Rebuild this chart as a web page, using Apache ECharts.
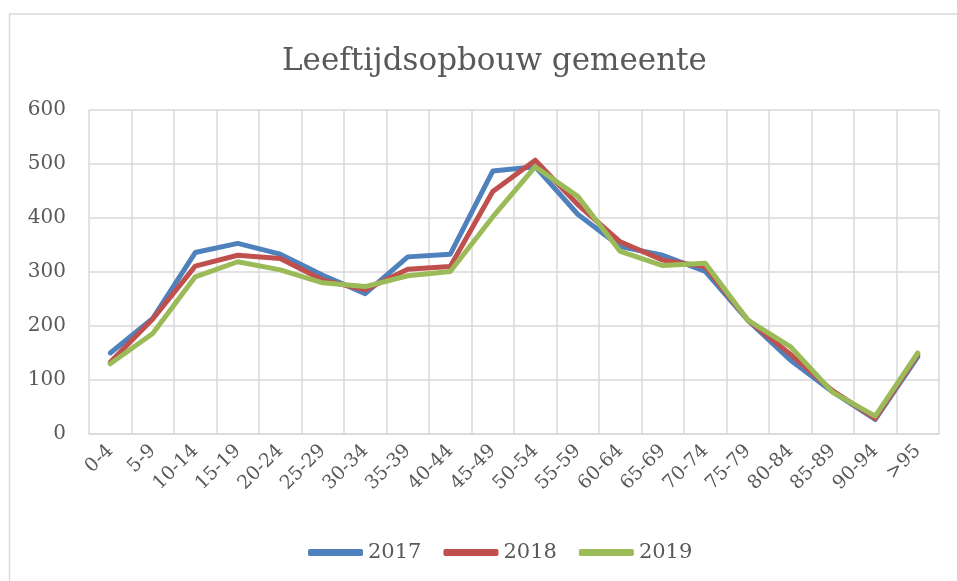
<!DOCTYPE html>
<html>
<head>
<meta charset="utf-8">
<script src="https://cdn.jsdelivr.net/npm/echarts@6/dist/echarts.min.js"></script>
<style>
html,body{margin:0;padding:0;background:#fff;}
#chart{width:957px;height:581px;}
</style>
</head>
<body>
<div id="chart"></div>
<script>
const categories = ['0-4','5-9','10-14','15-19','20-24','25-29','30-34','35-39','40-44','45-49','50-54','55-59','60-64','65-69','70-74','75-79','80-84','85-89','90-94','>95'];
const values2017 = [150, 214, 336, 353, 333, 294, 260, 328, 333, 487, 495, 407, 347, 331, 301, 211, 137, 78, 27, 143];
const values2018 = [133, 213, 311, 331, 325, 285, 267, 305, 310, 449, 507, 425, 356, 322, 310, 211, 148, 80, 29, 147];
const values2019 = [130, 186, 291, 319, 304, 280, 273, 293, 301, 402, 495, 440, 338, 312, 316, 211, 162, 77, 33, 150];
const yTicks = [0, 100, 200, 300, 400, 500, 600];

const FONT = 'DejaVu Serif';
const chart = echarts.init(document.getElementById('chart'), null, {renderer: 'canvas'});
const mk = (name, data, color) => ({
  name, type: 'line', data, symbol: 'none', smooth: false,
  lineStyle: {width: 5, color, cap: 'round', join: 'round'},
  itemStyle: {color}
});
chart.setOption({
  animation: false,
  title: {
    text: 'Leeftijdsopbouw gemeente', left: 277, top: 41,
    textStyle: {fontFamily: FONT, fontSize: 31, fontWeight: 'normal', color: '#595959'}
  },
  graphic: [{
    type: 'rect', shape: {x: 9.5, y: 14, width: 1200, height: 800},
    style: {fill: 'none', stroke: '#d9d9d9', lineWidth: 1.5}, silent: true
  }],
  legend: {
    bottom: 13, left: 303, itemWidth: 55, itemHeight: 7, itemGap: 22,
    icon: 'roundRect',
    textStyle: {fontFamily: FONT, fontSize: 21, color: '#595959'},
    data: ['2017', '2018', '2019']
  },
  grid: {left: 89, right: 18, top: 110, bottom: 147, containLabel: false},
  xAxis: {
    type: 'category', data: categories, boundaryGap: true,
    axisLine: {lineStyle: {color: '#d9d9d9', width: 1.5}},
    axisTick: {show: false},
    splitLine: {show: true, lineStyle: {color: '#d9d9d9', width: 1.5}},
    axisLabel: {interval: 0, rotate: 45, margin: 14, fontFamily: FONT, fontSize: 19, color: '#595959'}
  },
  yAxis: {
    type: 'value', min: yTicks[0], max: yTicks[yTicks.length - 1], interval: 100,
    axisLine: {show: false}, axisTick: {show: false},
    splitLine: {lineStyle: {color: '#d9d9d9', width: 1.5}},
    axisLabel: {margin: 23, fontFamily: FONT, fontSize: 20, color: '#595959'}
  },
  series: [
    mk('2017', values2017, '#4f81bd'),
    mk('2018', values2018, '#c0504d'),
    mk('2019', values2019, '#9bbb59')
  ]
});
</script>
</body>
</html>
